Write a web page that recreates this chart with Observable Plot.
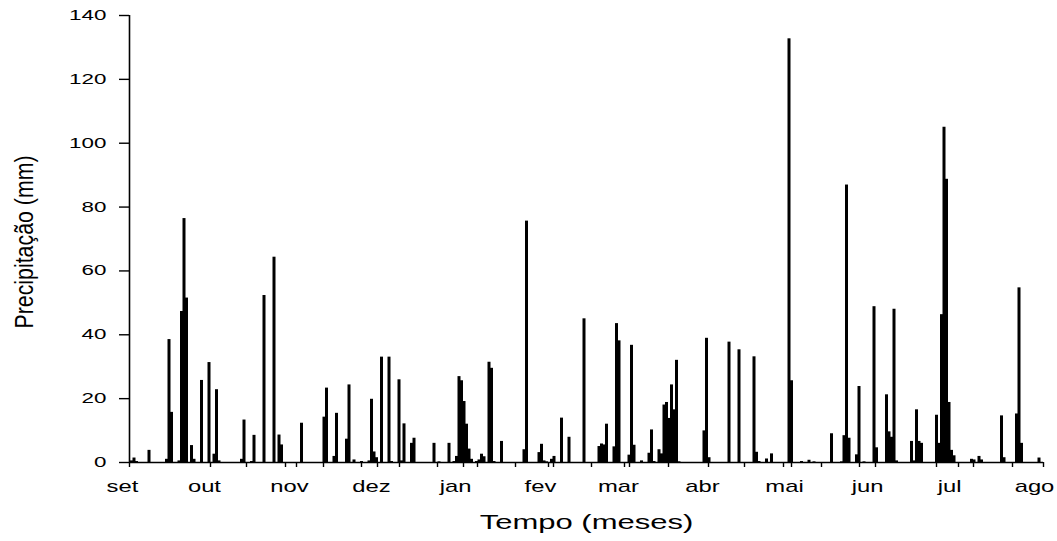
<!DOCTYPE html>
<html>
<head>
<meta charset="utf-8">
<script src="https://cdn.jsdelivr.net/npm/d3@7"></script>
<script src="https://cdn.jsdelivr.net/npm/@observablehq/plot@0.6"></script>
<style>
  html, body { margin: 0; padding: 0; background: #fff; }
  svg { display: block; }
</style>
</head>
<body>
<div id="chart"></div>
<script>
// Day index (0 = start of September) of each rainy day
const days = [1,2,3,8,15,16,17,20,21,22,23,25,26,29,32,34,35,36,45,46,49,50,54,58,60,61,69,78,79,82,83,87,88,90,93,96,97,98,99,101,104,105,108,109,110,113,114,122,124,128,130,131,132,133,134,135,136,137,139,140,141,142,144,145,146,149,158,159,164,165,166,167,169,170,173,176,182,188,189,190,191,194,195,196,200,201,202,205,208,209,210,212,213,214,215,216,217,218,219,220,230,231,232,240,244,250,251,252,255,257,264,265,269,272,274,281,285,286,287,288,291,292,294,298,299,303,304,305,306,307,313,314,315,316,317,323,324,325,326,327,328,329,330,337,338,340,341,349,350,355,356,357,364];
// Precipitation (mm) for each of those days
const rain = [0.5,1.4,0.3,3.8,1,38.5,15.7,0.5,47.3,76.4,51.5,5.3,1,25.7,31.3,2.6,22.8,0.5,1,13.3,0.3,8.5,52.3,64.3,8.6,5.5,12.3,14.2,23.3,1.9,15.4,7.3,24.3,0.8,0.3,0.5,19.8,3.3,1.5,33,33,0.3,25.9,0.5,12.1,6,7.6,6,0.2,6,0.3,1.9,26.9,25.6,19.1,12,4.2,1,0.3,0.8,2.6,1.8,31.4,29.5,0.3,6.6,4,75.6,3.1,5.7,0.5,0.2,1,1.9,13.9,7.9,45,5,5.8,5.5,12,4.9,43.5,38.1,2.3,36.7,5.4,0.5,2.9,10.2,0.3,4,2.7,18,18.8,13.8,24.3,16.5,32,0.2,9.9,38.9,1.5,37.7,35.3,33.1,3.2,0.3,1.1,2.7,132.7,25.6,0.3,0.7,0.2,9,0.2,8.4,86.9,7.6,2.4,23.8,0.2,48.8,4.6,21.2,9.6,7.9,48,0.5,6.6,0.5,16.5,6.6,6,14.8,6,46.3,105,88.7,18.8,3.8,2.1,1,0.8,1.9,0.8,14.6,1.5,15.2,54.7,6,1.4];
// Month tick labels and the day positions where they sit
const monthNames = ["set","out","nov","dez","jan","fev","mar","abr","mai","jun","jul","ago"];
const monthPos = [-2.8,30,64,96.8,130.4,164.4,195.6,229.2,262,295.2,328,362];
// Small tick marks along the time axis
const xTickDays = [0,32.4,46.8,62.4,66.8,77.6,92.8,99.2,108,123.2,133.6,139.2,154.4,167.6,169.6,184.8,198,200,215.6,231.6,246,261.6,264.8,276.8,292,298.4,322.8,331.6,337.6,353.2,365.6];
const yTicks = [0,20,40,60,80,100,120,140];
const xDomain = [0, 365.6];
const yDomain = [0, 140];
const xTitle = "Tempo (meses)";
const yTitle = "Precipitação (mm)";

const data = days.map((d, i) => ({day: d, value: rain[i]}));
const months = monthNames.map((m, i) => ({name: m, pos: monthPos[i]}));

const chart = Plot.plot({
  width: 1057,
  height: 541,
  marginLeft: 129,
  marginRight: 14,
  marginTop: 15,
  marginBottom: 79,
  style: {fontFamily: "'Liberation Sans', Arial, sans-serif", background: "#fff", color: "#000", overflow: "visible"},
  x: {domain: xDomain, label: null},
  y: {domain: yDomain, label: null},
  marks: [
    Plot.rectY(data, {x1: d => d.day - 0.6, x2: d => d.day + 0.6, y: "value", fill: "#000"}),
    Plot.ruleY([0], {stroke: "#000", strokeWidth: 1.6}),
    Plot.ruleX([0], {y1: yDomain[0], y2: yDomain[1], stroke: "#000", strokeWidth: 1.6}),
    Plot.axisY({ticks: yTicks, tickSize: 10, tickPadding: 13, fontSize: 14, strokeWidth: 1.4, label: null}),
    Plot.axisX({ticks: xTickDays, tickSize: 5, tickFormat: () => "", strokeWidth: 1.4, label: null}),
    Plot.text(months, {x: "pos", y: 0, text: "name", lineAnchor: "top", dy: 17, fontSize: 17}),
    Plot.text([xTitle], {frameAnchor: "bottom", lineAnchor: "top", dy: 52, fontSize: 20}),
    Plot.text([yTitle], {frameAnchor: "left", rotate: -90, dx: -105, dy: 3, fontSize: 22, textAnchor: "middle", lineAnchor: "middle"})
  ]
});
document.getElementById("chart").append(chart);

// Widen horizontal texts to match the stretched look of the reference
function stretch(textEl, sx, sy, anchor) {
  const b = textEl.getBBox();
  if (!b.width) return;
  const ox = anchor === "end" ? b.x + b.width : anchor === "start" ? b.x : b.x + b.width / 2;
  const oy = b.y + b.height / 2;
  const t = textEl.getAttribute("transform") || "";
  textEl.setAttribute("transform", `${t} translate(${ox},${oy}) scale(${sx},${sy}) translate(${-ox},${-oy})`);
}
d3.select(chart).selectAll("text").each(function() {
  const txt = this.textContent;
  if (txt === yTitle) stretch(this, 0.97, 1.2, "middle");
  else if (/^\d+$/.test(txt)) stretch(this, 1.6, 1, "end");
  else if (txt === xTitle) stretch(this, 1.55, 1, "middle");
  else if (monthNames.includes(txt)) stretch(this, 1.4, 1, "middle");
});
</script>
</body>
</html>
